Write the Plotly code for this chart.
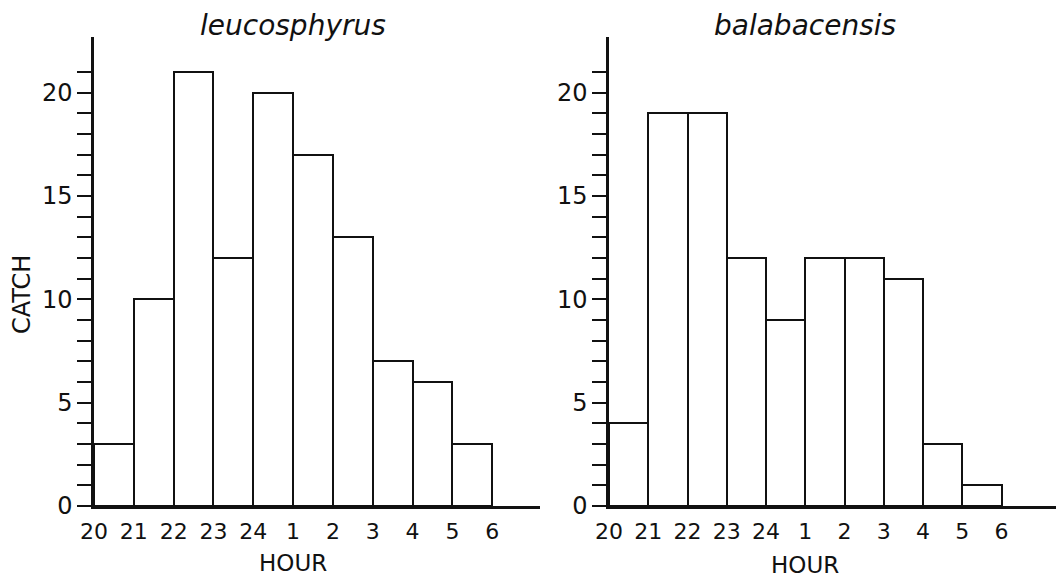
import plotly.graph_objects as go

hours = ["20", "21", "22", "23", "24", "1", "2", "3", "4", "5", "6"]
leuco_catch = [3, 10, 21, 12, 20, 17, 13, 7, 6, 3]
balab_catch = [4, 19, 19, 12, 9, 12, 12, 11, 3, 1]
titles = ["leucosphyrus", "balabacensis"]
y_ticks = list(range(0, 22))

FONT = "DejaVu Sans, sans-serif"
INK = "#111111"

# page body has an 8px margin: work in screen pixels, convert to figure pixels
OFF = 8
W, H = 1064 - OFF, 577 - OFF
ML, MR, MT, MB = 94 - OFF, 0, 37 - OFF, 71
PW, PH = W - ML - MR, H - MT - MB

def px_x(p):
    return (p - OFF - ML) / PW

def px_y(p):
    return (H - MB - (p - OFF)) / PH

fig = go.Figure()
centers = [i + 0.5 for i in range(len(leuco_catch))]
for k, vals in enumerate([leuco_catch, balab_catch]):
    xa = "x" if k == 0 else "x2"
    ya = "y" if k == 0 else "y2"
    fig.add_trace(go.Bar(
        x=centers, y=vals, width=1, xaxis=xa, yaxis=ya,
        marker=dict(color="white", line=dict(color=INK, width=2)),
        showlegend=False, hoverinfo="skip",
    ))

common_x = dict(
    tickmode="array", tickvals=list(range(len(hours))), ticktext=hours,
    ticks="", showgrid=False, zeroline=False, showline=True,
    linecolor=INK, linewidth=2.5, automargin=False, ticklabelstandoff=4,
    tickfont=dict(family=FONT, size=22, color=INK),
)
common_y = dict(
    range=[0, 22.7], tickmode="array", tickvals=y_ticks,
    ticktext=[str(v) if v % 5 == 0 else "" for v in y_ticks],
    ticks="outside", ticklen=14, tickwidth=2, tickcolor=INK,
    showgrid=False, zeroline=False, showline=True,
    linecolor=INK, linewidth=2.5, automargin=False,
    tickfont=dict(family=FONT, size=24, color=INK),
)

fig.update_layout(
    width=W, height=H, template="none",
    margin=dict(l=ML, r=MR, t=MT, b=MB),
    paper_bgcolor="white", plot_bgcolor="white",
    bargap=0,
    xaxis=dict(domain=[px_x(94), px_x(540)], range=[0, 11.2], anchor="y", **common_x),
    yaxis=dict(anchor="x", **common_y),
    xaxis2=dict(domain=[px_x(609), 1], range=[0, 11.59], anchor="y2", **common_x),
    yaxis2=dict(anchor="x2", **common_y),
    annotations=[
        dict(text=titles[0], x=5, y=px_y(25), xref="x", yref="paper",
             yanchor="middle", showarrow=False,
             font=dict(family=FONT, size=28, color=INK, style="italic")),
        dict(text=titles[1], x=5, y=px_y(25), xref="x2", yref="paper",
             yanchor="middle", showarrow=False,
             font=dict(family=FONT, size=28, color=INK, style="italic")),
        dict(text="HOUR", x=5, y=px_y(563), xref="x", yref="paper",
             yanchor="middle", showarrow=False,
             font=dict(family=FONT, size=23, color=INK)),
        dict(text="HOUR", x=5, y=px_y(565), xref="x2", yref="paper",
             yanchor="middle", showarrow=False,
             font=dict(family=FONT, size=23, color=INK)),
        dict(text="CATCH", x=px_x(22), y=px_y(295), xref="paper", yref="paper",
             xanchor="center", yanchor="middle", showarrow=False, textangle=-90,
             font=dict(family=FONT, size=24, color=INK)),
    ],
)

fig.write_html("out.html")
